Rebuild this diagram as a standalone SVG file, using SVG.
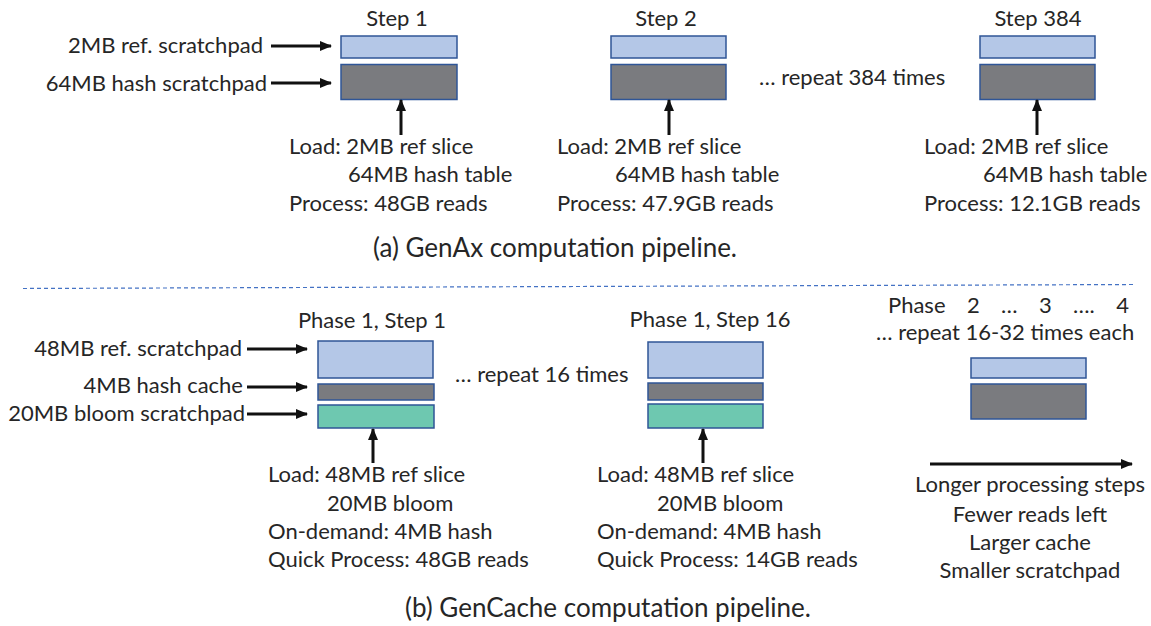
<svg xmlns="http://www.w3.org/2000/svg" width="1151" height="626" viewBox="0 0 1151 626">
<style>
text{font-family:Lato,"Open Sans","Liberation Sans",sans-serif;font-size:22px;fill:#262626}
.c{text-anchor:middle}
.e{text-anchor:end}
.cap{font-size:26px}
.ref{fill:#b4c7e7;stroke:#2f5597;stroke-width:1.5}
.hash{fill:#7a7b7f;stroke:#2f5597;stroke-width:1.5}
.bloom{fill:#6ec8b0;stroke:#2f5597;stroke-width:1.5}
.arr{stroke:#111;stroke-width:3;fill:none;marker-end:url(#ah)}
</style>
<defs>
<marker id="ah" markerUnits="userSpaceOnUse" markerWidth="12" markerHeight="12" viewBox="0 0 12 12" refX="11" refY="6" orient="auto">
<path d="M0,1 L12,6 L0,11 Z" fill="#111"/>
</marker>
</defs>
<rect width="1151" height="626" fill="#fff"/>

<g id="step1">
<text class="c" x="397" y="26">Step 1</text>
<rect class="ref" x="341" y="36" width="116" height="22"/>
<rect class="hash" x="341" y="64.5" width="116" height="35"/>
<text x="289" y="154">Load: 2MB ref slice</text>
<text x="348" y="182">64MB hash table</text>
<text x="289" y="211">Process: 48GB reads</text>
</g>
<g id="step2">
<text class="c" x="666" y="26">Step 2</text>
<rect class="ref" x="611" y="36" width="115" height="22"/>
<rect class="hash" x="611" y="64.5" width="115" height="35"/>
<text x="557" y="154">Load: 2MB ref slice</text>
<text x="615" y="182">64MB hash table</text>
<text x="557" y="211">Process: 47.9GB reads</text>
</g>
<g id="step384">
<text class="c" x="1038" y="26">Step 384</text>
<rect class="ref" x="980" y="36" width="115" height="22"/>
<rect class="hash" x="980" y="64.5" width="115" height="35"/>
<text x="924" y="154">Load: 2MB ref slice</text>
<text x="983" y="182">64MB hash table</text>
<text x="924" y="211">Process: 12.1GB reads</text>
</g>
<g id="labels-a">
<text class="e" x="263" y="53">2MB ref. scratchpad</text>
<text class="e" x="267" y="91">64MB hash scratchpad</text>
<text x="759" y="85">… repeat 384 times</text>
<text class="c cap" x="555" y="257">(a) GenAx computation pipeline.</text>
</g>

<line x1="23" y1="288.5" x2="1133" y2="284.5" stroke="#4472c4" stroke-width="1.2" stroke-dasharray="4,3"/>

<g id="p1s1">
<text class="c" x="372" y="328">Phase 1, Step 1</text>
<rect class="ref" x="318" y="341" width="115" height="37"/>
<rect class="hash" x="318" y="384" width="116" height="16"/>
<rect class="bloom" x="318" y="405" width="116" height="23"/>
<text x="268" y="482">Load: 48MB ref slice</text>
<text x="327" y="511">20MB bloom</text>
<text x="268" y="539">On-demand: 4MB hash</text>
<text x="268" y="567">Quick Process: 48GB reads</text>
</g>
<g id="p1s16">
<text class="c" x="710" y="327">Phase 1, Step 16</text>
<rect class="ref" x="648" y="342" width="115" height="36"/>
<rect class="hash" x="648" y="383" width="115" height="17"/>
<rect class="bloom" x="648" y="404" width="115" height="24"/>
<text x="597" y="482">Load: 48MB ref slice</text>
<text x="657" y="511">20MB bloom</text>
<text x="597" y="539">On-demand: 4MB hash</text>
<text x="597" y="567">Quick Process: 14GB reads</text>
</g>
<g id="phases">
<text x="888" y="313" xml:space="preserve" word-spacing="1.5">Phase   2   …   3   ….   4</text>
<text x="876" y="340">… repeat 16-32 times each</text>
<rect class="ref" x="971" y="358" width="115" height="20"/>
<rect class="hash" x="971" y="384" width="115" height="35"/>
<text class="c" x="1030" y="492">Longer processing steps</text>
<text class="c" x="1030" y="522">Fewer reads left</text>
<text class="c" x="1030" y="550">Larger cache</text>
<text class="c" x="1030" y="578">Smaller scratchpad</text>
</g>
<g id="labels-b">
<text class="e" x="242" y="356">48MB ref. scratchpad</text>
<text class="e" x="243" y="393">4MB hash cache</text>
<text class="e" x="245" y="421">20MB bloom scratchpad</text>
<text x="455" y="382">… repeat 16 times</text>
<text class="c cap" x="608" y="617">(b) GenCache computation pipeline.</text>
</g>

<g id="connectors">
<line class="arr" x1="271" y1="46" x2="331" y2="46"/>
<line class="arr" x1="271" y1="83" x2="331" y2="83"/>
<line class="arr" x1="401" y1="135" x2="401" y2="100"/>
<line class="arr" x1="669" y1="135" x2="669" y2="100"/>
<line class="arr" x1="1037" y1="135" x2="1037" y2="100"/>
<line class="arr" x1="247" y1="349" x2="307" y2="349"/>
<line class="arr" x1="247" y1="387" x2="307" y2="387"/>
<line class="arr" x1="247" y1="414" x2="307" y2="414"/>
<line class="arr" x1="373" y1="463" x2="373" y2="429"/>
<line class="arr" x1="703" y1="463" x2="703" y2="429"/>
<line class="arr" x1="930" y1="464" x2="1132" y2="464"/>
</g>
</svg>
